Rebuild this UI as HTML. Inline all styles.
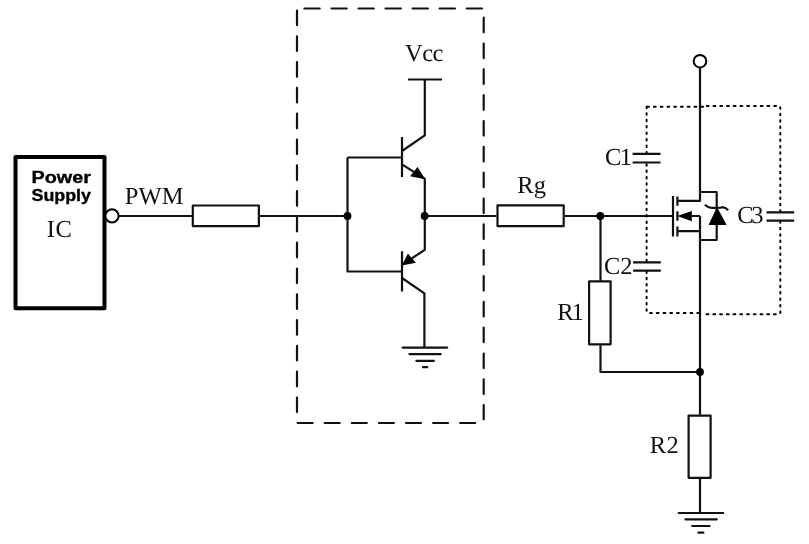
<!DOCTYPE html>
<html><head><meta charset="utf-8">
<style>
html,body{margin:0;padding:0;background:#fff;width:809px;height:544px;overflow:hidden}
svg{display:block;will-change:transform}
.w{stroke:#111;stroke-width:2.2;fill:none;stroke-linejoin:round}
.t{font-family:"Liberation Serif",serif;font-size:24.5px;fill:#111;text-rendering:geometricPrecision}
.b{font-family:"Liberation Sans",sans-serif;font-weight:bold;font-size:16px;fill:#000;stroke:#000;stroke-width:0.35}
</style></head><body>
<svg width="809" height="544" viewBox="0 0 809 544">
<rect x="15.5" y="157" width="89" height="151.3" fill="none" stroke="#000" stroke-width="4" stroke-linejoin="round"/>
<text class="b" x="31.5" y="183.1" textLength="59.4" lengthAdjust="spacingAndGlyphs">Power</text>
<text class="b" x="31.5" y="200.5" textLength="59.5" lengthAdjust="spacingAndGlyphs">Supply</text>
<text class="t" x="46.7" y="237.2" textLength="25.2">IC</text>
<text class="t" x="124.7" y="204.4" textLength="58.95">PWM</text>
<circle cx="112" cy="215.9" r="6.6" fill="#fff" stroke="#000" stroke-width="2"/>
<path class="w" d="M118.6 216H193M259 216H347.5M424.6 216H496.5"/>
<rect class="w" x="192.8" y="205.5" width="66.1" height="20.6"/>
<path class="w" d="M304.4 8.5H482.5" stroke-linecap="round" stroke-dasharray="15.3 11.75"/>
<path class="w" d="M297 10.5V411.9" stroke-linecap="round" stroke-dasharray="14.6 11.2"/>
<path class="w" d="M297.6 423H475.3" stroke-linecap="round" stroke-dasharray="15 12.1"/>
<path class="w" d="M483.7 17.7V419.4" stroke-linecap="round" stroke-dasharray="14.6 11.23"/>
<path class="w" d="M347.5 157.5V271.5H402M347.5 157.5H402"/>
<path class="w" d="M402 137V177M402 151L424.8 135.4V79.5M408 79.5H442M402 164.4L424.8 178.9V249.8L402 264.8"/>
<path class="w" d="M402 251.3V291.5M402 278L424.4 293.4V347.6"/>
<path class="w" d="M424.5 347.6V347.6M402.6 347.6H447.2M409.5 354.2H440.6M416.4 360.8H433.9M423 367.2H427.3" stroke-linecap="round"/>
<polygon points="425.3,179.2 410.1,176.3 417.5,167.1" fill="#000"/>
<polygon points="401.8,265.4 407.9,253.6 416,262.8" fill="#000"/>
<circle cx="347.5" cy="216" r="3.9" fill="#000"/>
<circle cx="424.6" cy="216" r="3.9" fill="#000"/>
<text class="t" x="405.1" y="60.8" textLength="38.15">Vcc</text>
<rect class="w" x="497.5" y="205.4" width="66.2" height="20.8"/>
<text class="t" x="517.2" y="193.4" textLength="28.69">Rg</text>
<path class="w" d="M564.9 216H673M600.5 216V281.5M600.5 345.3V372H700"/>
<circle cx="600.3" cy="216" r="3.9" fill="#000"/>
<rect class="w" x="589.1" y="281.3" width="21.5" height="63"/>
<text class="t" x="557.2" y="319.7" textLength="26.59">R1</text>
<circle cx="700" cy="61.2" r="6.3" fill="#fff" stroke="#000" stroke-width="2"/>
<path class="w" d="M700 67.6V200.8H677.4M700 192H716.7V240H700M700 216V414.7M691.5 216H700M677.4 231.2H700"/>
<path class="w" d="M673 196V236.6M677.4 196.5V205.8M677.4 211.3V220.7M677.4 226.6V236.4"/>
<polygon points="677.2,216.1 691.8,211 691.8,221.2" fill="#000"/>
<polygon points="717,207 708.6,225 726.6,225" fill="#000"/>
<path class="w" d="M704.8 204.8Q708 207.8 711.5 207.8H717Q720.5 207.8 722.5 207.2Q725.5 207.5 728.2 210.3"/>
<circle cx="700" cy="372" r="3.9" fill="#000"/>
<path d="M647.10 106.70h1.8M653.88 106.70h1.8M660.66 106.70h1.8M667.44 106.70h1.8M674.22 106.70h1.8M681.00 106.70h1.8M687.78 106.70h1.8M694.56 106.70h1.8M701.34 106.70h1.8M706.80 105.90h1.8M713.54 105.90h1.8M720.28 105.90h1.8M727.02 105.90h1.8M733.76 105.90h1.8M740.50 105.90h1.8M747.24 105.90h1.8M753.98 105.90h1.8M760.72 105.90h1.8M767.46 105.90h1.8M774.20 105.90h1.8M650.05 313.10h1.8M656.79 313.10h1.8M663.53 313.10h1.8M670.27 313.10h1.8M677.01 313.10h1.8M683.75 313.10h1.8M690.49 313.10h1.8M697.23 313.10h1.8M706.60 314.20h1.8M713.34 314.20h1.8M720.08 314.20h1.8M726.82 314.20h1.8M733.56 314.20h1.8M740.30 314.20h1.8M747.04 314.20h1.8M753.78 314.20h1.8M760.52 314.20h1.8M767.26 314.20h1.8M774.00 314.20h1.8M646.60 106.75v1.5M646.60 113.20v1.5M646.60 119.65v1.5M646.60 126.10v1.5M646.60 132.55v1.5M646.60 139.00v1.5M646.60 145.45v1.5M646.60 151.90v1.5M646.60 164.15v1.5M646.60 170.52v1.5M646.60 176.89v1.5M646.60 183.26v1.5M646.60 189.63v1.5M646.60 196.00v1.5M646.60 202.37v1.5M646.60 208.74v1.5M646.60 215.11v1.5M646.60 221.48v1.5M646.60 227.85v1.5M646.60 234.22v1.5M646.60 240.59v1.5M646.60 246.96v1.5M646.60 253.33v1.5M646.60 259.70v1.5M646.60 271.45v1.5M646.60 277.75v1.5M646.60 284.05v1.5M646.60 290.35v1.5M646.60 296.65v1.5M646.60 302.95v1.5M646.60 309.25v1.5M780.30 107.25v1.5M780.30 113.69v1.5M780.30 120.13v1.5M780.30 126.57v1.5M780.30 133.01v1.5M780.30 139.45v1.5M780.30 145.89v1.5M780.30 152.33v1.5M780.30 158.77v1.5M780.30 165.21v1.5M780.30 171.65v1.5M780.30 178.09v1.5M780.30 184.53v1.5M780.30 190.97v1.5M780.30 197.41v1.5M780.30 203.85v1.5M780.30 210.29v1.5M780.30 221.25v1.5M780.30 227.69v1.5M780.30 234.13v1.5M780.30 240.57v1.5M780.30 247.01v1.5M780.30 253.45v1.5M780.30 259.89v1.5M780.30 266.33v1.5M780.30 272.77v1.5M780.30 279.21v1.5M780.30 285.65v1.5M780.30 292.09v1.5M780.30 298.53v1.5M780.30 304.97v1.5M780.30 311.41v1.5" stroke="#000" stroke-width="2" fill="none" stroke-linecap="round"/>
<path class="w" d="M632.6 153.8H660.5M632.6 162.5H660.5M633.1 262.3H660.8M633.1 270.7H660.8M766.5 212.3H794.2M766.5 220.7H794.2"/>
<text class="t" x="604.9" y="165.4" textLength="27.09">C1</text>
<text class="t" x="603.9" y="274.2" textLength="28.59">C2</text>
<text class="t" x="737.2" y="222.7" textLength="26.29">C3</text>
<rect class="w" x="688.6" y="415.6" width="22" height="62.2"/>
<text class="t" x="649.7" y="453.4" textLength="29.09">R2</text>
<path class="w" d="M700 478.8V513"/><path class="w" stroke-linecap="round" d="M678.7 513H723.1M685.4 519.3H716.8M692.2 526H709.7M698.4 532.7H703.4"/>
</svg>
</body></html>
